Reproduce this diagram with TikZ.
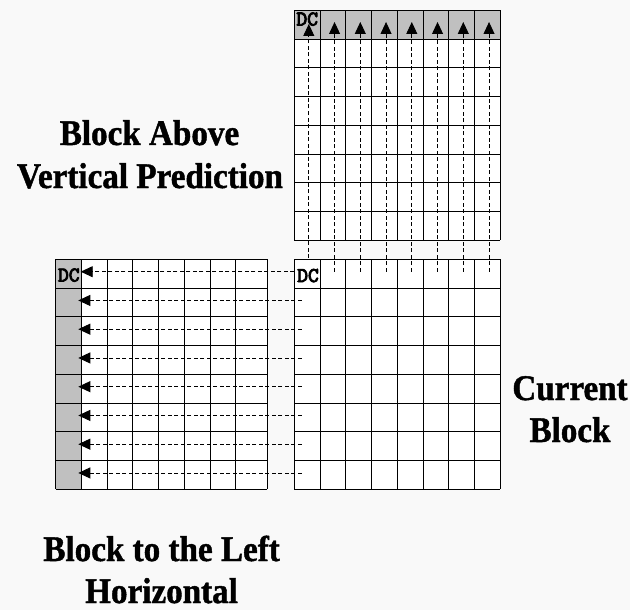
\documentclass[tikz,border=0pt]{standalone}
\usepackage{fontspec}
\usetikzlibrary{arrows.meta}
\newfontfamily\lblfont[FakeStretch=0.92,FakeBold=1.2]{Liberation Serif Bold}
\newfontfamily\dcfont[FakeBold=4]{Latin Modern Mono}
\definecolor{bg}{RGB}{249,249,249}
\definecolor{cellgray}{RGB}{192,192,192}
\begin{document}
\begin{tikzpicture}[x=1pt,y=-1pt,
  gridline/.style={line width=1pt, black},
  predarrow/.style={line width=0.9pt, dash pattern=on 4pt off 2.5pt, -{Triangle[length=12pt,width=11pt]}},
  biglabel/.style={font=\lblfont\fontsize{36}{43}\selectfont, text=black, inner sep=0pt, anchor=base},
  dclabel/.style={font=\dcfont\fontsize{21}{21}\selectfont, inner sep=0pt, anchor=base}]
\fill[bg] (0,0) rectangle (630,610);
\useasboundingbox (0,0) rectangle (630,610);

% ---- top block (above) ----
\fill[white] (294.3,10.3) rectangle (500.3,240.3);
\fill[cellgray] (294.3,10.3) rectangle (500.3,39.05);
\foreach \i in {0,...,8} {
  \draw[gridline] (294.3+\i*25.75,10.3) -- (294.3+\i*25.75,240.3);
  \draw[gridline] (294.3,10.3+\i*28.75) -- (500.3,10.3+\i*28.75);
}

% ---- current block ----
\fill[white] (294.3,259.3) rectangle (500.3,489.3);
\foreach \i in {0,...,8} {
  \draw[gridline] (294.3+\i*25.75,259.3) -- (294.3+\i*25.75,489.3);
  \draw[gridline] (294.3,259.3+\i*28.75) -- (500.3,259.3+\i*28.75);
}

% ---- left block ----
\fill[white] (55.7,259.3) rectangle (267.3,489.3);
\fill[cellgray] (55.7,259.3) rectangle (81.45,489.3);
\foreach \i in {0,...,7} {
  \draw[gridline] (55.7+\i*25.75,259.3) -- (55.7+\i*25.75,489.3);
}
\draw[gridline] (267.3,259.3) -- (267.3,489.3);
\foreach \i in {0,...,8} {
  \draw[gridline] (55.7,259.3+\i*28.75) -- (267.3,259.3+\i*28.75);
}

% ---- DC labels ----
\node[dclabel] (dctop) at (307.2,25.5) {DC};
\node[dclabel] (dcleft) at (68.8,281.5) {DC};
\node[dclabel] (dccur) at (308,282) {DC};

% ---- vertical prediction arrows ----
\coordinate (vs0) at (308.8,258);
\coordinate (ve0) at (308.8,24);
\draw[predarrow] (vs0) -- (ve0);
\foreach \k in {1,...,7} {
  \coordinate (vs\k) at (308.8+\k*25.75,271.7);
  \coordinate (ve\k) at (308.8+\k*25.75,22);
  \draw[predarrow] (vs\k) -- (ve\k);
}

% ---- horizontal prediction arrows ----
\coordinate (hs0) at (294.3,271.7);
\coordinate (he0) at (80.7,271.7);
\draw[predarrow] (hs0) -- (he0);
\foreach \r in {1,...,7} {
  \coordinate (hs\r) at (301.7,271.7+\r*28.75);
  \coordinate (he\r) at (78.3,271.7+\r*28.75);
  \draw[predarrow] (hs\r) -- (he\r);
}

% ---- labels ----
\node[biglabel] (above1) at (149.5,145) {Block Above};
\node[biglabel] (above2) at (150,188) {Vertical Prediction};
\node[biglabel] (cur1) at (570,400) {Current};
\node[biglabel] (cur2) at (570,442) {Block};
\node[biglabel] (left1) at (161.6,561) {Block to the Left};
\node[biglabel] (left2) at (161.6,603) {Horizontal};
\end{tikzpicture}
\end{document}
